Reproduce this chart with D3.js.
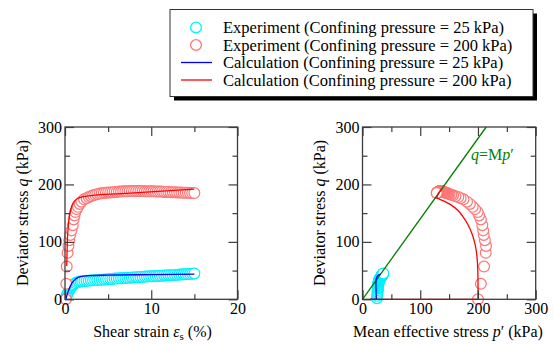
<!DOCTYPE html>
<html>
<head>
<meta charset="utf-8">
<script src="https://cdn.jsdelivr.net/npm/d3@7"></script>
<style>
  html, body { margin: 0; padding: 0; background: #fff; }
  svg { display: block; }
</style>
</head>
<body>
<svg id="chart" width="554" height="344"></svg>
<script>
// ---------- axis ticks ----------
const strainMajor = [0, 10, 20];
const strainMinor = [5, 15];
const stressMajor = [0, 100, 200, 300];
const stressMinor = [50, 150, 250];

// critical state line slope
const M = 1.4;

// ---------- experiment, confining pressure 200 kPa ----------
const expStrain200 = [0.1, 0.15, 0.2, 0.3, 0.4, 0.5, 0.6, 0.75, 0.9, 1.0, 1.1, 1.2, 1.35, 1.5, 1.7, 1.9, 2.2,
  2.5, 2.75, 3, 3.25, 3.5, 3.75, 4, 4.25, 4.5, 4.75, 5, 5.25, 5.5, 5.75, 6, 6.25, 6.5, 6.75, 7, 7.25,
  7.5, 7.75, 8, 8.25, 8.5, 8.75, 9, 9.25, 9.5, 9.75, 10, 10.25, 10.5, 10.75, 11, 11.25, 11.5, 11.75,
  12, 12.25, 12.5, 12.75, 13, 13.25, 13.5, 13.75, 14, 14.25, 14.5, 14.75, 15];
const expQ200 = [0, 27, 57, 81, 93, 103, 112, 120, 129, 139, 146, 152, 157, 161, 166, 170, 174,
  176, 178, 179.5, 181, 182, 183, 184, 184.5, 185, 185.5, 186, 186, 186.5, 187, 187, 187.5, 187.5, 188, 188, 188,
  188.5, 188.5, 188.5, 188.5, 188.5, 188.5, 188.5, 188, 188, 188, 188, 188, 187.5, 187.5, 187.5, 187.5,
  187, 187, 187, 186.5, 186.5, 186.5, 186, 186, 186, 185.5, 185.5, 185.5, 185, 185, 185];
const expP200 = [200, 205, 210.5, 213.5, 214, 212, 210, 209, 207.5, 205, 202, 199.5, 195, 191, 186, 181, 175,
  170, 166, 161, 157, 154, 151, 149, 147, 145.5, 144, 143, 142, 141, 140.5, 140, 139.5, 139, 138.5, 138, 137.5,
  137, 136.6, 136.2, 135.8, 135.4, 135, 134.6, 134.2, 133.8, 133.5, 133.2, 132.9, 132.6, 132.3, 132, 131.7,
  131.4, 131.1, 130.8, 130.5, 130.3, 130.1, 129.9, 129.7, 129.5, 129.3, 129.1, 128.9, 128.8, 128.7, 128.6];

// ---------- experiment, confining pressure 25 kPa ----------
const expStrain25 = [0.1, 0.2, 0.3, 0.4, 0.5, 0.6, 0.7, 0.8, 0.9, 1.0, 1.2, 1.4, 1.6, 1.8, 2.0,
  2.25, 2.5, 2.75, 3, 3.25, 3.5, 3.75, 4, 4.25, 4.5, 4.75, 5, 5.25, 5.5, 5.75, 6, 6.25, 6.5, 6.75, 7,
  7.25, 7.5, 7.75, 8, 8.25, 8.5, 8.75, 9, 9.25, 9.5, 9.75, 10, 10.25, 10.5, 10.75, 11, 11.25, 11.5, 11.75,
  12, 12.25, 12.5, 12.75, 13, 13.25, 13.5, 13.75, 14, 14.25, 14.5, 14.75, 15];
const expQ25 = [2, 6, 10, 13, 16, 19, 21, 23, 24.5, 26, 28, 29.5, 30.5, 31, 31.5,
  32, 32.5, 32.5, 33, 33, 33.5, 33.5, 34, 34, 34.5, 34.5, 35, 35.5, 35.5, 36, 36, 36.5, 36.5, 37, 37,
  37.5, 37.5, 38, 38, 38.5, 38.5, 39, 39, 39.5, 39.5, 40, 40, 40, 40.5, 40.5, 41, 41, 41.5, 41.5,
  42, 42, 42, 42.5, 42.5, 43, 43, 43.5, 43.5, 44, 44, 44.5, 45];
const expP25 = [25, 25.5, 26, 26, 26.5, 26.5, 27, 27, 27, 27.5, 27.5, 28, 28, 28, 28.5,
  28.5, 28.5, 28.7, 28.8, 29, 29, 29.2, 29.3, 29.4, 29.5, 29.6, 29.8, 30, 30, 30.2, 30.3, 30.5, 30.6, 30.8, 31,
  31.1, 31.2, 31.4, 31.5, 31.7, 31.8, 32, 32.1, 32.3, 32.4, 32.6, 32.7, 32.8, 33, 33.1, 33.3, 33.4, 33.6, 33.7,
  33.9, 34, 34.1, 34.3, 34.4, 34.6, 34.7, 34.9, 35, 35.2, 35.4, 35.6, 36];

// ---------- calculation, strain vs deviator stress ----------
const calcStrain25 = [0.1, 0.2, 0.35, 0.5, 0.75, 1.0, 1.3, 1.7, 2.2, 3, 5, 10, 15];
const calcQ25 = [0, 6, 13, 19, 27, 32, 36, 39, 40.5, 41.3, 42, 43, 44];
const calcStrain200 = [0.2, 0.27, 0.37, 0.55, 0.8, 1.1, 1.6, 2.7, 6.6, 15];
const calcQ200 = [58, 100, 125, 148, 163, 171, 176.5, 180, 184, 192];

// ---------- calculation, stress paths (p', q) ----------
// isotropic loading, undrained shearing up to the critical state line, then along it
const consolP25 = [13, 24];
const shearP25 = [24, 23.5, 23.3, 23.6, 24.5, 26, 28, 30, 31.4];
const shearQ25 = [0, 15, 30, 35, 38, 40.5, 42.2, 43.3, 44];
const consolP200 = [13, 200];
const shearP200 = [200, 200, 199, 197, 194, 189, 182, 174, 165, 154, 142, 134, 128];
const shearQ200 = [0, 40, 65, 85, 100, 116, 131, 144, 155, 164, 170.5, 174, 176.5];
const cslP200 = [128, 131, 134, 137];
const cslQ200 = [176.5, 183, 188, 192];

const legendLabels = [
  "Experiment (Confining pressure = 25 kPa)",
  "Experiment (Confining pressure = 200 kPa)",
  "Calculation (Confining pressure = 25 kPa)",
  "Calculation (Confining pressure = 200 kPa)"
];

// ---------- styles ----------
const FONT = "Liberation Serif, Times New Roman, serif";
const cyan = "#00f0ff", pink = "#ff7575", blue = "#0000ff", red = "#ff0000", green = "#008000";
const axisColor = "#3c3c3c";

const svg = d3.select("#chart").attr("font-family", FONT);

// scales
const xStrain = d3.scaleLinear().domain([0, 20]).range([65, 237.5]);
const yLeft = d3.scaleLinear().domain([0, 300]).range([299.3, 127]);
const xMean = d3.scaleLinear().domain([0, 300]).range([362.5, 535.7]);
const yRight = d3.scaleLinear().domain([0, 300]).range([299.3, 127]);

function drawFrame(g, x, y, xMaj, xMin, yMaj, yMin) {
  const [L, R] = x.range(), [B, T] = y.range();
  const sides = [
    [() => d3.axisBottom(x), `translate(0,${B})`, xMaj, xMin, true],
    [() => d3.axisTop(x), `translate(0,${T})`, xMaj, xMin, false],
    [() => d3.axisLeft(y), `translate(${L},0)`, yMaj, yMin, true],
    [() => d3.axisRight(y), `translate(${R},0)`, yMaj, yMin, false]
  ];
  sides.forEach(([make, tr, maj, mn, labelled]) => {
    g.append("g").attr("transform", tr)
      .call(make().tickValues(mn).tickSizeInner(-5).tickSizeOuter(0).tickFormat(""))
      .call(s => s.select(".domain").remove())
      .call(s => s.selectAll("line").attr("stroke", axisColor).attr("stroke-width", 1.2));
    const ax = make().tickValues(maj).tickSizeInner(-9).tickSizeOuter(0).tickPadding(3);
    if (!labelled) ax.tickFormat("");
    g.append("g").attr("transform", tr).call(ax)
      .attr("font-family", FONT).attr("font-size", 16)
      .call(s => s.select(".domain").remove())
      .call(s => s.selectAll("line").attr("stroke", axisColor).attr("stroke-width", 1.2))
      .call(s => s.selectAll("text").attr("fill", "#000")
        .attr("font-family", FONT).attr("font-size", 16));
  });
  g.append("rect").attr("x", L).attr("y", T).attr("width", R - L).attr("height", B - T)
    .attr("fill", "none").attr("stroke", axisColor).attr("stroke-width", 1.3);
}

function circles(g, xs, ys, x, y, color) {
  g.append("g").selectAll("circle").data(xs.map((v, i) => [v, ys[i]])).join("circle")
    .attr("cx", d => x(d[0])).attr("cy", d => y(d[1])).attr("r", 5.4)
    .attr("fill", "#fff").attr("stroke", color).attr("stroke-width", 1.2);
}

function path(g, xs, ys, x, y, color, curve) {
  g.append("path").datum(xs.map((v, i) => [v, ys[i]]))
    .attr("fill", "none").attr("stroke", color).attr("stroke-width", 1.3)
    .attr("stroke-linejoin", "round")
    .attr("d", d3.line().x(d => x(d[0])).y(d => y(d[1])).curve(curve || d3.curveLinear));
}

// ---------- left panel: q vs shear strain ----------
const left = svg.append("g");
circles(left, expStrain25, expQ25, xStrain, yLeft, cyan);
circles(left, expStrain200, expQ200, xStrain, yLeft, pink);
path(left, calcStrain25, calcQ25, xStrain, yLeft, blue, d3.curveMonotoneX);
path(left, calcStrain200, calcQ200, xStrain, yLeft, red, d3.curveMonotoneX);
drawFrame(left, xStrain, yLeft, strainMajor, strainMinor, stressMajor, stressMinor);

// ---------- right panel: stress paths ----------
const right = svg.append("g");
circles(right, expP25, expQ25, xMean, yRight, cyan);
circles(right, expP200, expQ200, xMean, yRight, pink);
right.append("line")
  .attr("x1", xMean(0)).attr("y1", yRight(0))
  .attr("x2", xMean(300 / M)).attr("y2", yRight(300))
  .attr("stroke", green).attr("stroke-width", 1.3);
path(right, consolP200, [0, 0], xMean, yRight, red);
path(right, consolP25, [0, 0], xMean, yRight, "#7a1a8a");
path(right, shearP25, shearQ25, xMean, yRight, blue, d3.curveCatmullRom);
path(right, shearP200, shearQ200, xMean, yRight, red, d3.curveCatmullRom);
path(right, cslP200, cslQ200, xMean, yRight, red);
drawFrame(right, xMean, yRight, stressMajor, stressMinor, stressMajor, stressMinor);

// critical state line label
const csl = right.append("text").attr("x", 471).attr("y", 160)
  .attr("fill", green).attr("font-size", 16);
csl.append("tspan").attr("font-style", "italic").text("q");
csl.append("tspan").text("=M");
csl.append("tspan").attr("font-style", "italic").text("p");
csl.append("tspan").text("\u2032");

// ---------- axis titles ----------
function yTitle(x, cy) {
  const t = svg.append("text").attr("transform", `translate(${x},${cy}) rotate(-90)`)
    .attr("text-anchor", "middle").attr("font-size", 16);
  t.append("tspan").text("Deviator stress ");
  t.append("tspan").attr("font-style", "italic").text("q");
  t.append("tspan").text(" (kPa)");
}
yTitle(27.5, 213);
yTitle(324.5, 213);

const xt1 = svg.append("text").attr("x", 152.5).attr("y", 336.5)
  .attr("text-anchor", "middle").attr("font-size", 16);
xt1.append("tspan").text("Shear strain ");
xt1.append("tspan").attr("font-style", "italic").text("\u03b5");
xt1.append("tspan").attr("dy", 3).attr("font-size", 11).text("s");
xt1.append("tspan").attr("dy", -3).text(" (%)");

const xt2 = svg.append("text").attr("x", 448).attr("y", 336.5)
  .attr("text-anchor", "middle").attr("font-size", 16);
xt2.append("tspan").text("Mean effective stress ");
xt2.append("tspan").attr("font-style", "italic").text("p");
xt2.append("tspan").text("\u2032 (kPa)");

// ---------- legend ----------
const lg = svg.append("g");
const box = { x: 170, y: 9.5, w: 363, h: 87 };
lg.append("rect").attr("x", box.x + 4).attr("y", box.y + 4).attr("width", box.w).attr("height", box.h).attr("fill", "#000");
lg.append("rect").attr("x", box.x).attr("y", box.y).attr("width", box.w).attr("height", box.h)
  .attr("fill", "#fff").attr("stroke", "#333").attr("stroke-width", 1);
const rowY = d3.scalePoint().domain(legendLabels).range([33, 85.5]);
const markers = [
  { type: "circle", color: cyan },
  { type: "circle", color: pink },
  { type: "line", color: blue },
  { type: "line", color: red }
];
legendLabels.forEach((lab, i) => {
  const yb = rowY(lab);
  const m = markers[i];
  if (m.type === "circle") {
    lg.append("circle").attr("cx", 196).attr("cy", yb - 5.5).attr("r", 5.4)
      .attr("fill", "#fff").attr("stroke", m.color).attr("stroke-width", 1.3);
  } else {
    lg.append("line").attr("x1", 181).attr("x2", 212).attr("y1", yb - 5.5).attr("y2", yb - 5.5)
      .attr("stroke", m.color).attr("stroke-width", 1.3);
  }
  lg.append("text").attr("x", 223).attr("y", yb).attr("font-size", 16.5).text(lab);
});
</script>
</body>
</html>
